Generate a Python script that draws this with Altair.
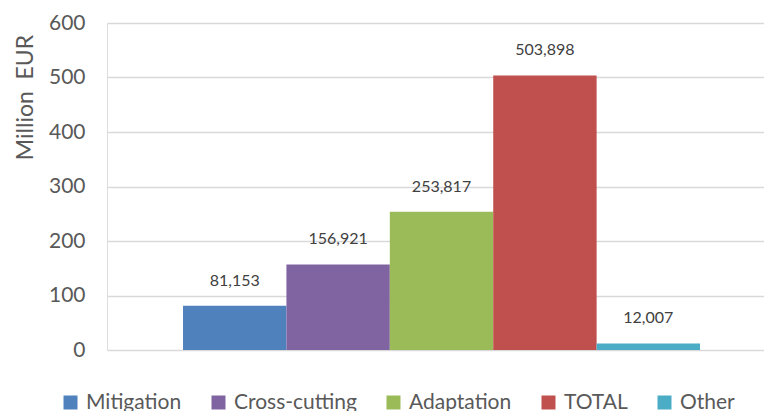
import altair as alt
import pandas as pd

categories = ["Mitigation", "Cross-cutting", "Adaptation", "TOTAL", "Other"]
values = [81.153, 156.921, 253.817, 503.898, 12.007]
labels = ["81,153", "156,921", "253,817", "503,898", "12,007"]
colors = ["#4f81bd", "#8064a2", "#9bbb59", "#c0504d", "#4bacc6"]
y_ticks = [0, 100, 200, 300, 400, 500, 600]

df = pd.DataFrame({"series": categories, "value": values, "label": labels})

FONT = "Lato"
GREY = "#595959"

x_enc = alt.X("series:N", sort=categories, axis=None,
              scale=alt.Scale(paddingInner=0, paddingOuter=0.677, align=0.543))
y_enc = alt.Y("value:Q",
              scale=alt.Scale(domain=[0, 600], nice=False),
              axis=alt.Axis(values=y_ticks, title="Million\u00a0\u00a0EUR", domain=False, ticks=False,
                            labelFontSize=21, labelColor=GREY, labelFont=FONT, labelPadding=22,
                            gridColor="#d9d9d9", gridWidth=1.5,
                            titleFontSize=23, titleColor=GREY, titleFont=FONT, titleFontWeight="normal",
                            titleAngle=-90, titleX=-82, titleY=74, titleAlign="center",
                            titleBaseline="middle"))

bars = alt.Chart(df).mark_bar().encode(
    x=x_enc,
    y=y_enc,
    color=alt.Color("series:N", sort=categories,
                    scale=alt.Scale(domain=categories, range=colors),
                    legend=alt.Legend(orient="none", legendX=-47, legendY=369,
                                      direction="horizontal", columns=5, title=None,
                                      gridAlign="none",
                                      symbolType="square", symbolSize=196, symbolStrokeWidth=0,
                                      labelFontSize=21, labelColor=GREY, labelFont=FONT,
                                      labelOffset=5, columnPadding=26)),
)

text = alt.Chart(df).mark_text(baseline="bottom", dy=-17, fontSize=16, color="#404040", font=FONT).encode(
    x=alt.X("series:N", sort=categories, axis=None),
    y=alt.Y("value:Q"),
    text="label:N",
)

chart = alt.layer(bars, text).properties(
    width=657, height=327,
    autosize=alt.AutoSizeParams(type="none"),
    padding={"left": 107, "top": 23, "right": 0, "bottom": 61},
).configure_view(stroke=None).configure(background="white")

chart.save("out.html", embed_options={"renderer": "svg", "actions": False})
